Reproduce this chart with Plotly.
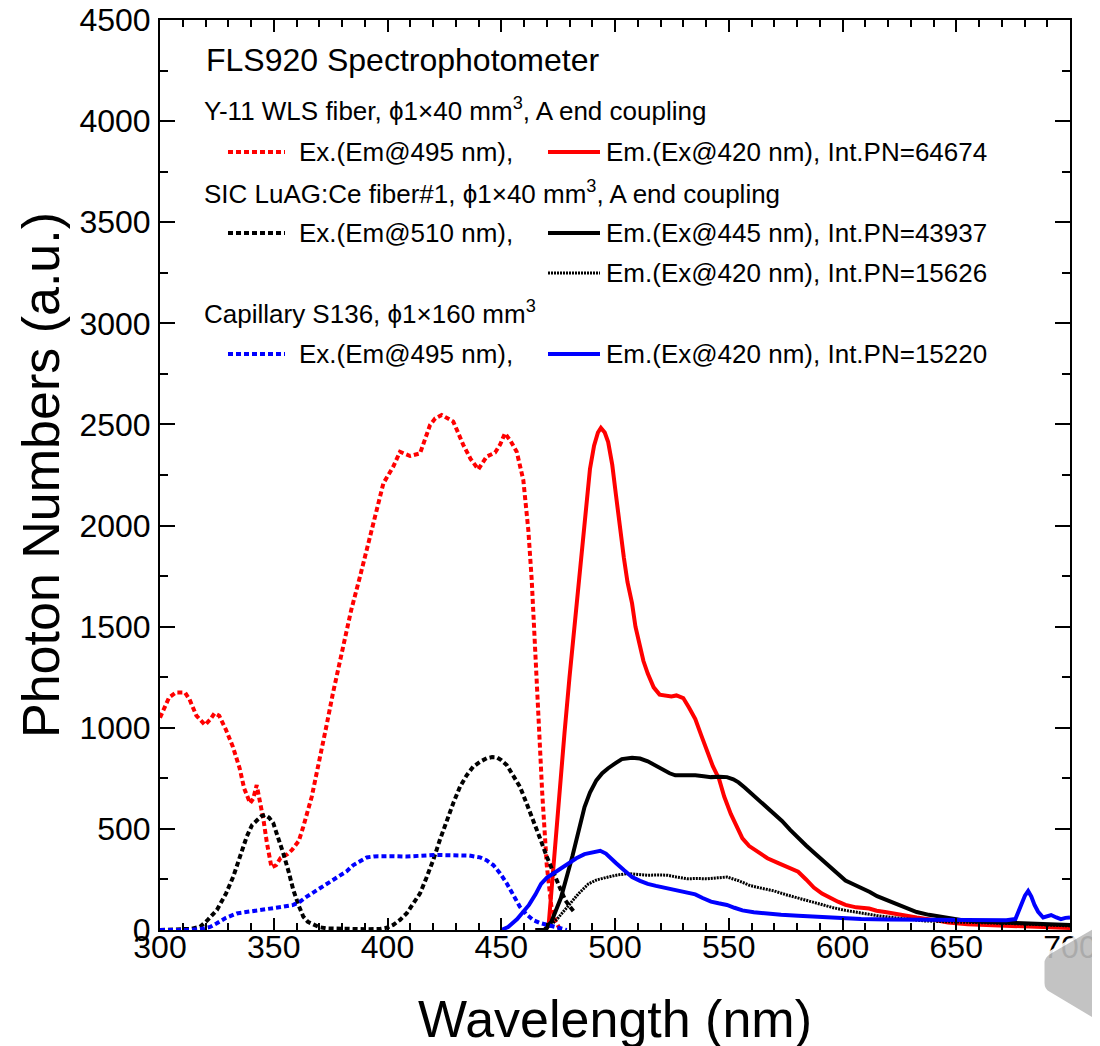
import plotly.graph_objects as go

# ---------------- data ----------------
# Y-11 WLS fiber, excitation (Em@495 nm)
ex_y11_wl = [300, 304, 307, 311, 313, 316, 319.8, 322, 324, 326, 329, 332, 335, 337, 339.6, 341,
             342.5, 344, 345.5, 347, 349, 351, 353, 356, 358, 361, 363, 366.7, 370.3, 373, 376,
             380, 384, 387.9, 392.3, 395.2, 398.2, 402.5, 405.5, 409.9, 414.3, 418.7, 421, 423.8,
             426, 428.9, 431, 433.3, 436.5, 439.9, 443.6, 447.3, 449.5, 451.6, 454, 456.8, 459.7,
             461.9, 463.4, 465, 466.5, 468, 470, 472, 474, 476]
ex_y11_pn = [1050, 1150, 1174, 1174, 1140, 1060, 1014, 1040, 1072, 1060, 990, 907, 800, 700, 627, 650,
             717, 640, 544, 430, 310, 320, 356, 375, 396, 440, 511, 659, 841, 1000, 1170,
             1385, 1580, 1747, 1945, 2093, 2209, 2291, 2365, 2344, 2357, 2497, 2530, 2547,
             2535, 2514, 2460, 2399, 2330, 2278, 2341, 2361, 2400, 2456, 2420, 2365, 2225,
             1978, 1731, 1350, 1000, 680, 320, 120, 40, 0]

# Y-11 WLS fiber, emission (Ex@420 nm)
em_y11_wl = [465, 469, 470.8, 472.5, 474.3, 476, 477.8, 480, 483, 485, 487.4, 489, 490.8, 492.5, 493.8,
             495.5, 497, 498.8, 500.4, 502, 503.9, 505.5, 507.5, 509, 510.9, 512.5, 514.4, 517,
             519.6, 522, 524.8, 527, 530, 532.5, 535.3, 538, 540.4, 543, 545.7, 548, 550.9,
             553.5, 556, 559, 563, 567, 571.8, 576, 580.5, 584, 587.4, 591, 594.4, 598, 601.3,
             606, 611.7, 615, 618.7, 625, 632.6, 640, 646.4, 655, 670.8, 685, 700]
em_y11_pn = [0, 0, 20, 250, 540, 760, 974, 1250, 1583, 1850, 2102, 2280, 2395, 2460, 2483,
             2460, 2413, 2300, 2153, 2000, 1841, 1720, 1615, 1500, 1407, 1330, 1268, 1200,
             1164, 1158, 1155, 1160, 1147, 1100, 1043, 960, 886, 810, 748, 660, 574,
             510, 453, 415, 383, 355, 331, 310, 288, 250, 210, 180, 158, 140, 124,
             112, 106, 95, 89, 75, 62, 50, 37, 28, 20, 14, 10]

# SIC LuAG:Ce fiber#1, excitation (Em@510 nm)
ex_luag_wl = [300, 310, 314, 317.6, 321, 325, 329, 332.2, 335, 338.1, 340.5, 342.5, 344.5, 346.2, 348,
              349.8, 352, 354.2, 356.5, 358.6, 361, 363, 365, 367.4, 370, 373.3, 380, 390, 396.7,
              400, 402.5, 405.5, 408.4, 411, 414.3, 417, 420.1, 423, 426, 429, 431.9, 434.8,
              437.7, 440.7, 443.6, 446, 448, 450, 452.4, 455.3, 458.2, 461, 464.1, 467, 470,
              473, 475.8, 478, 480.2, 482]
ex_luag_pn = [0, 2, 6, 16, 50, 99, 180, 264, 360, 461, 520, 544, 562, 569, 555,
              528, 460, 379, 290, 198, 120, 66, 40, 25, 14, 8, 5, 4, 5,
              12, 25, 50, 82, 125, 181, 255, 346, 445, 544, 630, 709, 765,
              808, 832, 849, 855, 854, 840, 816, 765, 709, 630, 544, 455, 363,
              280, 198, 150, 115, 90]

# SIC LuAG:Ce fiber#1, emission (Ex@445 nm)
em_luag445_wl = [465, 469, 472, 476.2, 481.3, 484, 486.6, 489, 491.8, 494.4, 497, 500.4, 503, 507.5,
                 511, 514.4, 518, 521.3, 524, 526.5, 531, 535.3, 539, 542.2, 546, 549.2, 552,
                 554.3, 557, 559.6, 563, 566.5, 570, 573.4, 577, 580.5, 584, 587.4, 591, 594.4,
                 598, 601.3, 605, 608.2, 612, 615.2, 619, 622.2, 627, 632.6, 638, 644.8, 652,
                 658.7, 670, 679.6, 690, 700]
em_luag445_pn = [0, 0, 40, 158, 366, 490, 608, 680, 740, 775, 800, 826, 845, 852,
                 848, 834, 810, 791, 775, 765, 765, 765, 760, 756, 758, 756, 745,
                 730, 705, 678, 645, 608, 575, 539, 495, 453, 418, 383, 348, 314,
                 280, 245, 225, 210, 188, 167, 150, 132, 110, 89, 75, 62, 50,
                 42, 36, 33, 28, 25]

# SIC LuAG:Ce fiber#1, emission (Ex@420 nm)
em_luag420_wl = [466, 470, 475, 479.6, 484, 488.3, 492, 497, 501, 505.7, 510, 514.4, 519, 523.1, 527,
                 531.8, 536, 540.4, 545, 549.2, 554, 559.6, 565, 570, 575, 580.5, 586, 590.9,
                 596, 601.3, 608, 615.2, 625, 636, 648, 662, 680, 700]
em_luag420_pn = [0, 5, 60, 124, 180, 228, 248, 262, 272, 279, 276, 271, 272, 271, 262,
                 253, 255, 253, 258, 262, 245, 219, 205, 193, 175, 158, 140, 124,
                 110, 97, 85, 71, 58, 45, 40, 37, 30, 20]

# Capillary S136, excitation (Em@495 nm)
ex_cap_wl = [300, 313, 318, 322, 325, 329, 333.7, 339.6, 345, 349.8, 354, 358.6, 361.5, 364.5, 368,
             371.8, 375.5, 379.1, 382, 385, 388, 390.9, 394, 396.7, 402, 408.4, 414, 420.1, 426,
             431.9, 436, 440.7, 443.5, 446.5, 449.5, 452.4, 455.3, 458.2, 461, 464.1, 467, 470,
             474, 478.8]
ex_cap_pn = [0, 0, 5, 15, 33, 60, 82, 91, 98, 107, 115, 124, 140, 165, 190,
             214, 238, 264, 290, 321, 343, 359, 364, 366, 365, 363, 368, 371, 370,
             371, 368, 359, 345, 321, 280, 231, 170, 115, 78, 49, 35, 25,
             12, 0]

# Capillary S136, emission (Ex@420 nm)
em_cap_wl = [450, 453, 457, 459.5, 462.2, 465, 467.5, 470, 472.7, 476, 479.6, 483, 486.6, 490, 493.5,
             496, 498, 500.4, 504, 507.5, 511, 514.4, 518, 521.3, 525, 528.3, 532, 535.3, 538.5,
             542.2, 545.5, 549.2, 552.5, 556, 561, 566.5, 573, 580.5, 587, 594.4, 601, 608.2,
             620, 636, 650, 663.9, 672, 676, 678.6, 680.2, 681.6, 683, 684.4, 686, 688.2, 690,
             691.7, 694, 696, 698, 700]
em_cap_pn = [0, 15, 54, 85, 124, 175, 228, 258, 279, 305, 331, 355, 375, 385, 392,
             378, 355, 331, 295, 262, 243, 228, 218, 210, 202, 193, 185, 176, 158,
             140, 132, 124, 110, 97, 88, 80, 75, 71, 66, 62, 58, 54,
             52, 50, 48, 45, 48, 54, 124, 170, 193, 165, 124, 90, 62, 68,
             74, 62, 54, 60, 62]

x_ticks = [300, 350, 400, 450, 500, 550, 600, 650, 700]
y_ticks = [0, 500, 1000, 1500, 2000, 2500, 3000, 3500, 4000, 4500]

# ---------------- styling ----------------
FONT = "Liberation Sans, Arial, Helvetica, sans-serif"
RED, BLACK, BLUE = "#ff0000", "#000000", "#0000ff"
DASH = "5px,3px"
DOT = "2px,1px"

W, H = 1100, 1046
# the page shows the figure offset by the 8px body margin
OFF = 8
PL, PT, PR, PB = 160, 20, 1070, 930          # desired plot box in the screenshot
L, T = PL - OFF, PT - OFF
R, B = W - (PR - OFF), H - (PB - OFF)
PW, PH = PR - PL, PB - PT


def px(x):
    return (x - PL) / PW


def py(y):
    return (PB - y) / PH


series = [
    (ex_y11_wl, ex_y11_pn, RED, DASH, 4),
    (em_y11_wl, em_y11_pn, RED, "solid", 4),
    (ex_luag_wl, ex_luag_pn, BLACK, DASH, 4),
    (em_luag445_wl, em_luag445_pn, BLACK, "solid", 4),
    (em_luag420_wl, em_luag420_pn, BLACK, DOT, 3),
    (ex_cap_wl, ex_cap_pn, BLUE, DASH, 4),
    (em_cap_wl, em_cap_pn, BLUE, "solid", 4),
]

fig = go.Figure()
for xs, ys, col, dash, w in series:
    fig.add_trace(go.Scatter(x=xs, y=ys, mode="lines", showlegend=False,
                             line=dict(color=col, dash=dash, width=w)))

# ---------------- legend built from text + line samples ----------------
annotations = []
shapes = []


def text(x, y, s, size=26):
    annotations.append(dict(x=px(x), y=py(y), xref="paper", yref="paper", text=s,
                            showarrow=False, xanchor="left", yanchor="middle",
                            font=dict(family=FONT, size=size, color="black")))


def sample(x0, x1, y, col, dash, w):
    shapes.append(dict(type="line", xref="paper", yref="paper", x0=px(x0), x1=px(x1),
                       y0=py(y), y1=py(y), line=dict(color=col, dash=dash, width=w)))


text(204, 60, "FLS920 Spectrophotometer", 32)
text(202, 110, "Y-11 WLS fiber, \u03d51\u00d740 mm<sup>3</sup>, A end coupling")
sample(228, 285, 152, RED, DASH, 4)
text(297, 152, "Ex.(Em@495 nm),")
sample(548, 600, 152, RED, "solid", 4)
text(604, 152, "Em.(Ex@420 nm), Int.PN=64674")
text(202, 192, "SIC LuAG:Ce fiber#1, \u03d51\u00d740 mm<sup>3</sup>, A end coupling")
sample(228, 285, 233, BLACK, DASH, 4)
text(297, 233, "Ex.(Em@510 nm),")
sample(548, 600, 233, BLACK, "solid", 4)
text(604, 233, "Em.(Ex@445 nm), Int.PN=43937")
sample(548, 600, 273, BLACK, DOT, 3)
text(604, 273, "Em.(Ex@420 nm), Int.PN=15626")
text(202, 313, "Capillary S136, \u03d51\u00d7160 mm<sup>3</sup>")
sample(228, 285, 354, BLUE, DASH, 4)
text(297, 354, "Ex.(Em@495 nm),")
sample(548, 600, 354, BLUE, "solid", 4)
text(604, 354, "Em.(Ex@420 nm), Int.PN=15220")

# slide navigation arrow in the bottom-right corner (decoration)
pts = [("M", 1104, 921), ("L", 1049, 953), ("Q", 1043, 957, 1043, 963), ("L", 1043, 983),
       ("Q", 1043, 990, 1049, 993), ("L", 1104, 1026)]
path = ""
for p in pts:
    if p[0] == "Q":
        path += f"Q{px(p[1]):.5f},{py(p[2]):.5f} {px(p[3]):.5f},{py(p[4]):.5f} "
    else:
        path += f"{p[0]}{px(p[1]):.5f},{py(p[2]):.5f} "
path += "Z"
shapes.append(dict(type="path", xref="paper", yref="paper", path=path, layer="above",
                   fillcolor="#bdbdbd", opacity=0.9, line=dict(color="white", width=3)))

axis_common = dict(showline=True, linecolor="black", linewidth=2, mirror="allticks",
                   ticks="inside", tickcolor="black", tickwidth=2, showgrid=False,
                   zeroline=False, automargin=False, ticklabeloverflow="allow",
                   tickfont=dict(family=FONT, size=32, color="black"))

fig.update_layout(
    width=W, height=H,
    margin=dict(l=L, r=R, t=T, b=B),
    paper_bgcolor="white", plot_bgcolor="white",
    annotations=annotations, shapes=shapes,
    xaxis=dict(range=[300, 700], tickvals=x_ticks, ticklen=12,
               minor=dict(dtick=10, ticklen=7, ticks="inside", tickcolor="black", tickwidth=2),
               title=dict(text="Wavelength (nm)", font=dict(family=FONT, size=52, color="black"),
                          standoff=36),
               ticklabelstandoff=-12, **axis_common),
    yaxis=dict(range=[0, 4500], tickvals=y_ticks, ticklen=15,
               minor=dict(dtick=250, ticklen=8, ticks="inside", tickcolor="black", tickwidth=2),
               title=dict(text="Photon Numbers (a.u.)", font=dict(family=FONT, size=52, color="black"),
                          standoff=3),
               ticklabelstandoff=1, **axis_common),
)

fig.write_html("out.html")
